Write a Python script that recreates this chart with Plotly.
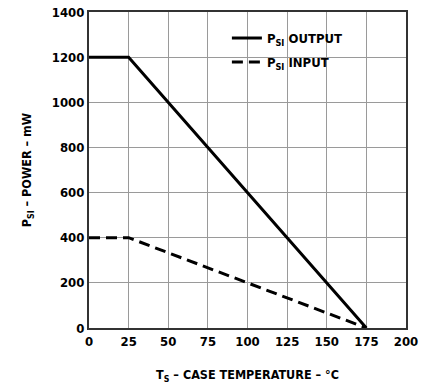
import plotly.graph_objects as go

temp = [0, 25, 175]
p_output = [1200, 1200, 0]
p_input = [400, 400, 0]
x_ticks = [0, 25, 50, 75, 100, 125, 150, 175, 200]
y_ticks = [0, 200, 400, 600, 800, 1000, 1200, 1400]

FONT = "DejaVu Sans Condensed, sans-serif"
tfont = dict(family=FONT, size=13, color="black", weight="bold")
titlefont = dict(family=FONT, size=12.5, color="black", weight="bold")

fig = go.Figure()
fig.add_trace(go.Scatter(x=temp, y=p_output, mode="lines",
                         line=dict(color="black", width=3),
                         name="P<sub>SI</sub> OUTPUT", legendgroup="out"))
fig.add_trace(go.Scatter(x=temp, y=p_input, mode="lines",
                         line=dict(color="black", width=3, dash="11px,6px"),
                         name="P<sub>SI</sub> INPUT", legendgroup="in"))

axis_common = dict(showgrid=True, gridcolor="#9a9a9a", gridwidth=1,
                   showline=True, linecolor="#333333", linewidth=2, mirror=True,
                   zeroline=False, ticks="", automargin=False, tickfont=tfont,
                   ticklabeloverflow="allow")

fig.update_xaxes(range=[0, 200], tickvals=x_ticks,
                 title=dict(text="T<sub>S</sub> – CASE TEMPERATURE – °C", font=titlefont, standoff=23),
                 **axis_common)
fig.update_yaxes(range=[0, 1400], tickvals=y_ticks,
                 title=dict(text="P<sub>SI</sub> – POWER – mW", font=titlefont, standoff=17),
                 **axis_common)

# white legend background panel (covers the gridlines behind the legend)
fig.add_shape(type="rect", xref="paper", yref="paper",
              x0=0.375, x1=0.94, y0=0.79, y1=0.987,
              fillcolor="white", line=dict(width=0), layer="between")

fig.update_layout(
    width=435, height=388,
    margin=dict(l=89, r=29, t=12, b=60),
    plot_bgcolor="white", paper_bgcolor="white",
    font=tfont,
    legend=dict(x=0.435, y=0.965, xanchor="left", yanchor="top",
                bgcolor="rgba(0,0,0,0)", borderwidth=0,
                font=tfont, tracegroupgap=4),
    showlegend=True,
)

fig.write_html("out.html", config={"displayModeBar": False},
               post_script="document.body.style.margin='0';")
